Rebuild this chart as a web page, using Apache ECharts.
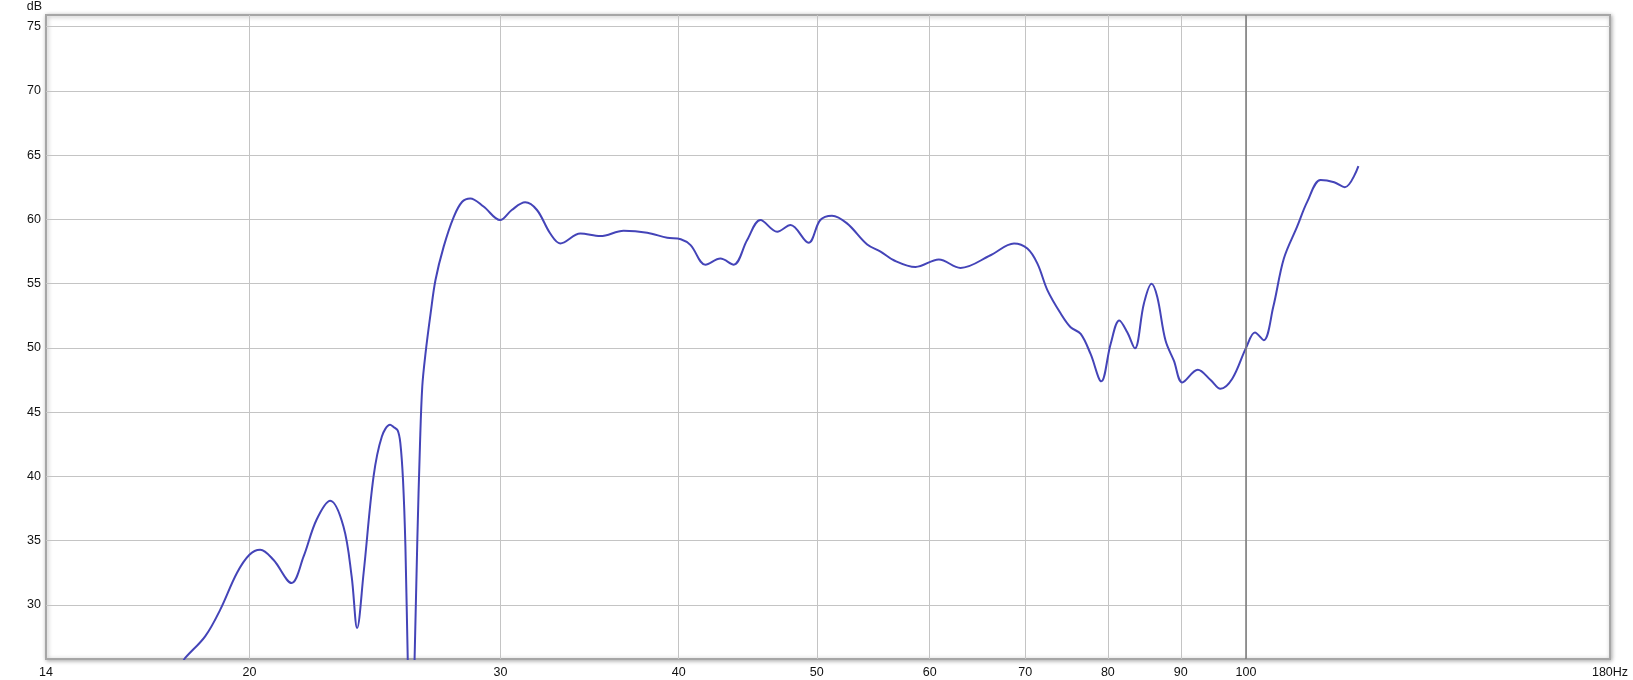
<!DOCTYPE html>
<html><head><meta charset="utf-8">
<script src="https://cdn.jsdelivr.net/npm/echarts@6/dist/echarts.min.js"></script>
<style>html,body{margin:0;padding:0;background:#fff}#c{width:1633px;height:680px}</style>
</head><body><div id="c"></div>
<script>
const freqHz = [17.95, 18.03, 18.62, 19.08, 19.6, 20.0, 20.35, 20.79, 21.41, 21.83, 22.29, 22.79, 23.28, 23.59, 23.8, 24.05, 24.44, 24.77, 25.1, 25.24, 25.41, 25.52, 25.63, 25.73, 25.83, 25.97, 26.11, 26.23, 26.34, 26.44, 26.58, 26.8, 27.01, 27.37, 27.82, 28.2, 28.57, 29.19, 29.98, 30.55, 31.22, 31.82, 32.51, 33.04, 34.13, 35.25, 36.6, 38.02, 39.27, 40.14, 40.78, 41.77, 42.79, 43.72, 44.68, 45.65, 46.9, 47.92, 49.34, 50.28, 51.24, 52.5, 54.24, 55.42, 56.62, 58.64, 60.89, 63.06, 66.19, 68.75, 70.25, 71.4, 72.57, 74.15, 75.33, 76.57, 77.8, 79.16, 80.36, 81.49, 82.55, 83.57, 84.79, 85.85, 86.65, 87.81, 89.0, 90.22, 92.5, 94.44, 95.95, 97.8, 100, 101.45, 102.9, 104.5, 106.3, 108.6, 110.4, 112.8, 115.3, 117.3, 119.9];
const levelDb = [25.5, 25.88, 27.56, 29.64, 32.49, 33.91, 34.3, 33.52, 31.71, 33.78, 36.63, 38.11, 36.11, 32.23, 28.21, 32.49, 40.0, 43.11, 44.02, 43.85, 43.58, 42.6, 39.74, 34.56, 25.5, 16, 25.5, 35.08, 42.33, 47.0, 49.59, 52.7, 55.28, 57.88, 60.2, 61.37, 61.63, 61.0, 59.95, 60.73, 61.33, 60.73, 58.9, 58.13, 58.9, 58.7, 59.11, 58.96, 58.57, 58.46, 58.0, 56.48, 56.95, 56.48, 58.39, 59.95, 59.04, 59.56, 58.18, 59.95, 60.29, 59.69, 58.05, 57.5, 56.82, 56.3, 56.88, 56.22, 57.21, 58.13, 57.73, 56.56, 54.48, 52.66, 51.61, 51.09, 49.53, 47.4, 50.31, 52.14, 51.22, 49.97, 53.44, 55.0, 53.96, 50.57, 49.01, 47.32, 48.3, 47.5, 46.82, 47.6, 50.0, 51.2, 50.6, 53.2, 56.95, 59.43, 61.38, 63.07, 62.89, 62.5, 64.15];
const xTickValues = [14.4, 20, 30, 40, 50, 60, 70, 80, 90, 100, 180];
const xTickLabels = ['14', '20', '30', '40', '50', '60', '70', '80', '90', '100', '180Hz'];
const xGridValues = [20, 30, 40, 50, 60, 70, 80, 90, 100];
const yTickValues = [30, 35, 40, 45, 50, 55, 60, 65, 70, 75];
const markerHz = [100];

const seriesData = freqHz.map((f, i) => [f, levelDb[i]]);
function xLabel(v) {
  let best = 0, bd = Infinity;
  xTickValues.forEach((t, i) => { const d = Math.abs(Math.log(t) - Math.log(v)); if (d < bd) { bd = d; best = i; } });
  return xTickLabels[best];
}
const chart = echarts.init(document.getElementById('c'), null, {renderer: 'canvas'});
chart.setOption({
  animation: false,
  backgroundColor: '#ffffff',
  textStyle: {fontFamily: 'Liberation Sans, Arial, sans-serif'},
  grid: {
    left: 46, right: 23, top: 14, bottom: 21,
    show: true, backgroundColor: '#ffffff',
    borderColor: '#a6a6a6', borderWidth: 2,
    shadowColor: 'rgba(0,0,0,0.3)', shadowBlur: 4, shadowOffsetX: 1, shadowOffsetY: 1
  },
  xAxis: {
    type: 'log', logBase: 10, min: 14.4, max: 180,
    axisLine: {show: false},
    axisTick: {show: false, customValues: xGridValues},
    axisLabel: {customValues: xTickValues, formatter: xLabel, color: '#111', fontSize: 12.5, margin: 7, fontFamily: 'Liberation Sans'},
    splitLine: {show: true, lineStyle: {color: '#c4c4c4', width: 1}}
  },
  yAxis: {
    type: 'value', min: 25.8, max: 75.9,
    name: 'dB', nameLocation: 'end', nameGap: 2,
    nameTextStyle: {align: 'right', verticalAlign: 'bottom', color: '#111', fontSize: 12.5, padding: [0, 4, 0, 0], fontFamily: 'Liberation Sans'},
    axisLine: {show: false},
    axisTick: {show: false, customValues: yTickValues},
    axisLabel: {customValues: yTickValues, color: '#111', fontSize: 12.5, margin: 5, fontFamily: 'Liberation Sans'},
    splitLine: {show: true, lineStyle: {color: '#c4c4c4', width: 1}}
  },
  series: [{
    type: 'line', data: seriesData, smooth: 0.35, showSymbol: false, clip: true,
    lineStyle: {color: '#4444b8', width: 2},
    markLine: {
      silent: true, symbol: 'none', label: {show: false},
      lineStyle: {color: '#7a7a7a', width: 1.5, type: 'solid'},
      data: markerHz.map(v => ({xAxis: v}))
    }
  }]
});
</script></body></html>
